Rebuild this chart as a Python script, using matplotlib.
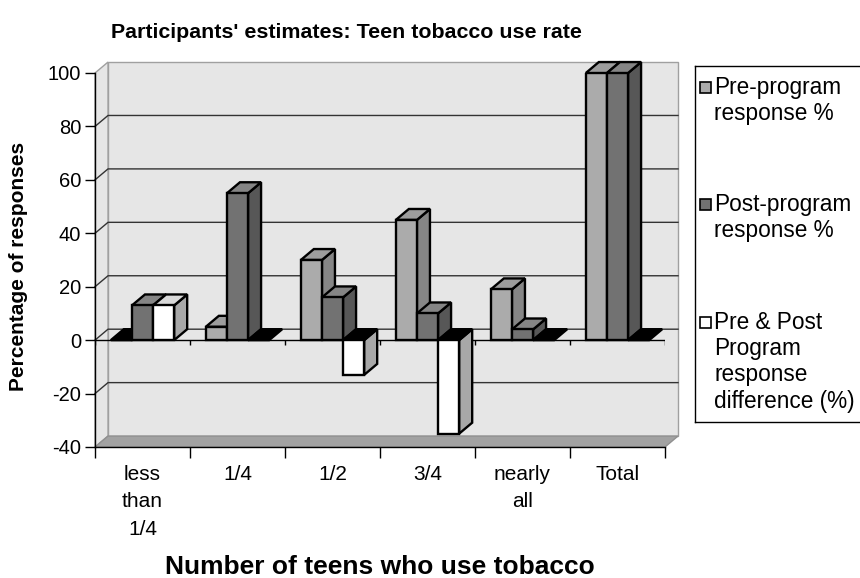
import numpy as np
import matplotlib.pyplot as plt
from matplotlib.patches import Polygon, Rectangle

categories = ["less\nthan\n1/4", "1/4", "1/2", "3/4", "nearly\nall", "Total"]
series_labels = ["Pre-program\nresponse %",
                 "Post-program\nresponse %",
                 "Pre & Post\nProgram\nresponse\ndifference (%)"]
pre_program = [0, 5, 30, 45, 19, 100]
post_program = [13, 55, 16, 10, 4, 100]
difference = [13, 0, -13, -35, 0, 0]
yticks = [-40, -20, 0, 20, 40, 60, 80, 100]

# front, side and top shade for each series
shades = [
    ("#ababab", "#868686", "#9d9d9d"),
    ("#727272", "#575757", "#858585"),
    ("#ffffff", "#a8a8a8", "#d9d9d9"),
]

plt.rcParams["font.family"] = ["Liberation Sans", "DejaVu Sans"]
plt.rcParams["axes.unicode_minus"] = False

fig = plt.figure(figsize=(8.6, 5.78), dpi=100)
ax = fig.add_axes([95 / 860, 131 / 578, 570 / 860, 374 / 578])
n = len(categories)
ymin, ymax = yticks[0], yticks[-1]
ax.set_xlim(0, n)
ax.set_ylim(ymin, ymax)

# depth of the fake 3d box, in data units
dx, dy = 0.137, 4.1
wall = "#e6e6e6"
lw = 1.7

# walls and floor
ax.add_patch(Polygon([(dx, ymin + dy), (n + dx, ymin + dy), (n + dx, ymax + dy), (dx, ymax + dy)],
                     fc=wall, ec="#a0a0a0", lw=1, clip_on=False, zorder=0))
ax.add_patch(Polygon([(0, ymin), (dx, ymin + dy), (dx, ymax + dy), (0, ymax)],
                     fc=wall, ec="#a0a0a0", lw=1, clip_on=False, zorder=0))
ax.add_patch(Polygon([(0, ymin), (n, ymin), (n + dx, ymin + dy), (dx, ymin + dy)],
                     fc="#a2a2a2", ec="#909090", lw=1, clip_on=False, zorder=1))
for v in yticks[1:-1]:
    ax.plot([0, dx, n + dx], [v, v + dy, v + dy], color="#333333", lw=1, clip_on=False, zorder=1)

# category axis at zero on the front plane
edges = np.arange(n + 1)
ax.plot([0, n], [0, 0], color="black", lw=1, zorder=2)
ax.vlines(edges, -2, 0, color="black", lw=1, zorder=2)

w = 1 / 4.5
z = 3.0


def draw_bar(x0, v, front, side, top):
    global z
    lo, hi = min(0, v), max(0, v)
    kw = dict(ec="black", lw=lw, joinstyle="miter", clip_on=False)
    if v == 0:
        ax.add_patch(Polygon([(x0, 0), (x0 + w, 0), (x0 + w + dx, dy), (x0 + dx, dy)],
                             fc="black", zorder=z, **kw))
        z += 0.01
        return
    ax.add_patch(Polygon([(x0 + w, lo), (x0 + w + dx, lo + dy), (x0 + w + dx, hi + dy), (x0 + w, hi)],
                         fc=side, zorder=z, **kw))
    ax.add_patch(Polygon([(x0, hi), (x0 + w, hi), (x0 + w + dx, hi + dy), (x0 + dx, hi + dy)],
                         fc=top if v > 0 else "black", zorder=z, **kw))
    ax.bar(x0, hi - lo, width=w, bottom=lo, align="edge", color=front,
           edgecolor="black", linewidth=lw, zorder=z + 0.005)
    z += 0.01


for i in range(n):
    for j, values in enumerate([pre_program, post_program, difference]):
        draw_bar(i + 0.75 * w + j * w, values[i], *shades[j])

# axes, ticks and labels
for side in ["top", "right"]:
    ax.spines[side].set_visible(False)
ax.spines["left"].set_linewidth(1)
ax.spines["bottom"].set_linewidth(1)
ax.spines["left"].set_zorder(10)
ax.spines["bottom"].set_zorder(10)
ax.set_yticks(yticks)
ax.tick_params(axis="y", direction="out", length=7, width=1, labelsize=14.5, pad=3)
ax.set_xticks(edges)
ax.set_xticklabels([])
ax.set_xticks(edges[:-1] + 0.5, minor=True)
ax.set_xticklabels(categories, minor=True, fontsize=15, linespacing=1.56)
ax.tick_params(axis="x", which="major", direction="out", length=8, width=1)
ax.tick_params(axis="x", which="minor", length=0, pad=13)

fig.text(346 / 860, 1 - 38 / 578, "Participants' estimates: Teen tobacco use rate",
         ha="center", va="baseline", fontsize=15.4, fontweight="bold")
fig.text(380 / 860, 1 - 574 / 578, "Number of teens who use tobacco",
         ha="center", va="baseline", fontsize=19, fontweight="bold")
fig.text(19 / 860, 1 - 266 / 578, "Percentage of responses", rotation=90,
         ha="center", va="center", fontsize=15, fontweight="bold")

# legend box
top_px, bot_px, left_px, right_px = 66, 422, 695, 864
lax = fig.add_axes([left_px / 860, 1 - bot_px / 578, (right_px - left_px) / 860, (bot_px - top_px) / 578])
lax.set_xlim(left_px, right_px)
lax.set_ylim(bot_px, top_px)
lax.set_xticks([])
lax.set_yticks([])
for s in lax.spines.values():
    s.set_linewidth(1)
entry_y = [88, 205, 323]
for j, label in enumerate(series_labels):
    y = entry_y[j]
    lax.add_patch(Rectangle((700, y - 6), 11, 11, fc=shades[j][0], ec="black", lw=1.2))
    lax.text(714, y - 12, label, va="top", ha="left", fontsize=16.3, linespacing=1.18)

fig.savefig("out.png", dpi=100)
